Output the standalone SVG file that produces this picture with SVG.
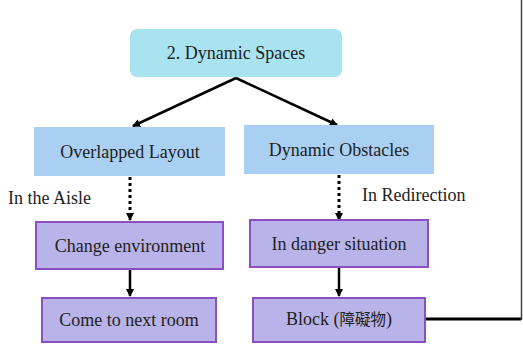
<svg xmlns="http://www.w3.org/2000/svg" width="523" height="347" viewBox="0 0 523 347">
<defs>
<marker id="ah" markerWidth="8" markerHeight="8" refX="7" refY="4" orient="auto" markerUnits="userSpaceOnUse">
<path d="M0,0 L8,4 L0,8 Z" fill="#000"/>
</marker>
<style>
text{font-family:"Liberation Serif",Tinos,"Times New Roman","DejaVu Serif",serif;font-size:18px;fill:#222;text-anchor:middle}
.lbl{text-anchor:start}
.blue{fill:#a9d0f2}
.purple{fill:#b8b3e8;stroke:#8c4fc2;stroke-width:2}
.c{stroke:#000;stroke-width:2.5;fill:none}
.d{stroke:#000;stroke-width:3;fill:none;stroke-dasharray:3 3}
</style>
</defs>
<rect width="523" height="347" fill="#fff"/>
<g id="connectors">
<line class="c" x1="236" y1="78" x2="133" y2="126" marker-end="url(#ah)"/>
<line class="c" x1="236" y1="78" x2="337" y2="125" marker-end="url(#ah)"/>
<line class="d" x1="130" y1="177" x2="130" y2="220" marker-end="url(#ah)"/>
<line class="d" x1="339" y1="175" x2="339" y2="220" marker-end="url(#ah)"/>
<line class="c" x1="130" y1="270" x2="130" y2="296" marker-end="url(#ah)"/>
<line class="c" x1="339" y1="268" x2="339" y2="296" marker-end="url(#ah)"/>
<polyline points="426,319 521,319" stroke="#000" stroke-width="3" fill="none"/>
<line x1="521.5" y1="0" x2="521.5" y2="320" stroke="#444" stroke-width="1.5"/>
</g>
<g id="n-dynamic-spaces">
<rect x="130" y="29" width="212" height="48" rx="7" fill="#a8e3ef"/>
<text x="236" y="59">2. Dynamic Spaces</text>
</g>
<g id="n-overlapped">
<rect class="blue" x="34" y="127" width="191" height="49"/>
<text x="130" y="158">Overlapped Layout</text>
</g>
<g id="n-obstacles">
<rect class="blue" x="244" y="125" width="190" height="49"/>
<text x="339" y="156">Dynamic Obstacles</text>
</g>
<text class="lbl" x="8" y="204">In the Aisle</text>
<text class="lbl" x="362" y="201">In Redirection</text>
<g id="n-change">
<rect class="purple" x="36" y="222" width="187" height="47"/>
<text x="130" y="252">Change environment</text>
</g>
<g id="n-danger">
<rect class="purple" x="250" y="220" width="178" height="47"/>
<text x="339" y="250">In danger situation</text>
</g>
<g id="n-next-room">
<rect class="purple" x="42" y="298" width="174" height="44"/>
<text x="129" y="326">Come to next room</text>
</g>
<g id="n-block">
<rect class="purple" x="253" y="298" width="172" height="44"/>
<text x="339" y="325">Block (<tspan font-family="'Noto Sans CJK TC','Noto Sans CJK SC',sans-serif" font-size="15.5">障礙物</tspan>)</text>
</g>
</svg>
